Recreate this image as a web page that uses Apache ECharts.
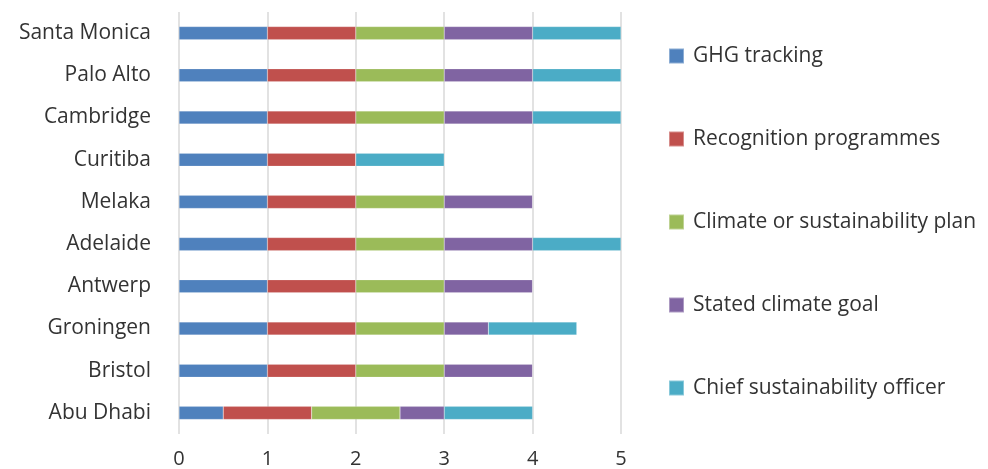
<!DOCTYPE html>
<html>
<head>
<meta charset="utf-8">
<script src="https://cdn.jsdelivr.net/npm/echarts@6/dist/echarts.min.js"></script>
<style>
  html, body { margin: 0; padding: 0; background: #fff; }
  #chart { width: 988px; height: 469px; }
</style>
</head>
<body>
<div id="chart"></div>
<script>
// Cities, bottom to top on the category axis
const cities = ['Abu Dhabi', 'Bristol', 'Groningen', 'Antwerp', 'Adelaide', 'Melaka', 'Curitiba', 'Cambridge', 'Palo Alto', 'Santa Monica'];

const seriesNames = ['GHG tracking', 'Recognition programmes', 'Climate or sustainability plan', 'Stated climate goal', 'Chief sustainability officer'];
const seriesColors = ['#4F81BD', '#C0504D', '#9BBB59', '#8064A2', '#4BACC6'];

const ghgTracking      = [0.5, 1, 1, 1, 1, 1, 1, 1, 1, 1];
const recognition      = [1,   1, 1, 1, 1, 1, 1, 1, 1, 1];
const climatePlan      = [1,   1, 1, 1, 1, 1, 0, 1, 1, 1];
const climateGoal      = [0.5, 1, 0.5, 1, 1, 1, 0, 1, 1, 1];
const chiefOfficer     = [1,   0, 1, 0, 1, 0, 1, 1, 1, 1];

const xTicks = [0, 1, 2, 3, 4, 5];

const values = [ghgTracking, recognition, climatePlan, climateGoal, chiefOfficer];
const fontFamily = '"Open Sans", "Noto Sans", sans-serif';

const chart = echarts.init(document.getElementById('chart'), null, { renderer: 'canvas' });
chart.setOption({
  animation: false,
  backgroundColor: '#ffffff',
  grid: { left: 179, right: 367, top: 12, bottom: 33, containLabel: false },
  legend: {
    orient: 'vertical',
    left: 663,
    top: 40,
    itemWidth: 15,
    itemHeight: 15,
    itemGap: 61,
    icon: 'rect',
    textStyle: { fontFamily, fontSize: 21, color: '#333', lineHeight: 22, padding: [0, 0, 0, 4] },
    data: seriesNames
  },
  xAxis: {
    type: 'value',
    min: xTicks[0],
    max: xTicks[xTicks.length - 1],
    interval: 1,
    axisLine: { show: false },
    axisTick: { show: false },
    splitLine: { show: true, lineStyle: { color: '#d9d9d9', width: 1.5 } },
    axisLabel: { fontFamily, fontSize: 20, color: '#333', margin: 15 }
  },
  yAxis: {
    type: 'category',
    data: cities,
    axisLine: { show: false },
    axisTick: { show: false },
    axisLabel: { fontFamily, fontSize: 21, color: '#333', margin: 28, padding: [0, 0, 5, 0] }
  },
  series: seriesNames.map((name, i) => ({
    name,
    type: 'bar',
    stack: 'total',
    barWidth: '31%',
    itemStyle: { color: seriesColors[i], borderColor: 'rgba(255,255,255,0.35)', borderWidth: 0.5 },
    data: values[i]
  }))
});
</script>
</body>
</html>
